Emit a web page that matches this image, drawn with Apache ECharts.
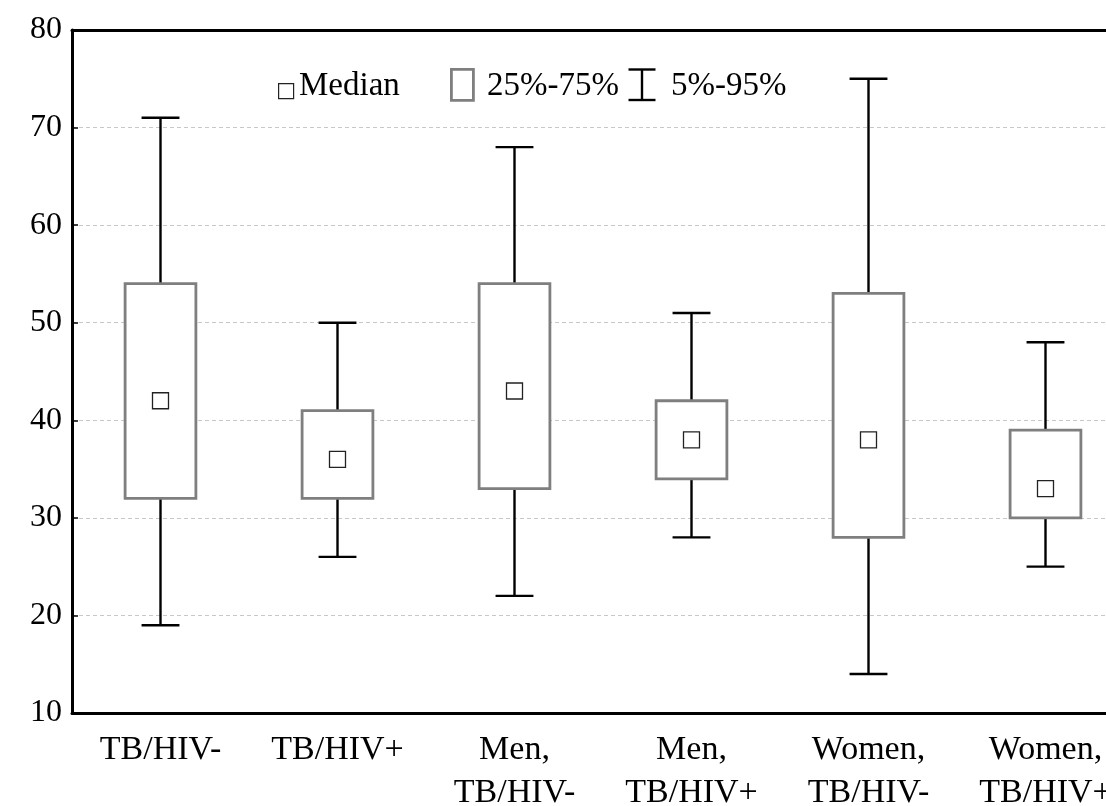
<!DOCTYPE html>
<html>
<head>
<meta charset="utf-8">
<script src="https://cdn.jsdelivr.net/npm/echarts@6/dist/echarts.min.js"></script>
<style>
  html, body { margin: 0; padding: 0; background: #fff; overflow: hidden; }
  /* the plot runs past the right edge of the window, as in the original */
  #main { width: 1134px; height: 806px; }
</style>
</head>
<body>
<div id="main"></div>
<script>
// groups and their summary statistics (age, years)
var categories = ['TB/HIV-', 'TB/HIV+', 'Men,\nTB/HIV-', 'Men,\nTB/HIV+', 'Women,\nTB/HIV-', 'Women,\nTB/HIV+'];
var p5 = [19, 26, 22, 28, 14, 25];
var q25 = [32, 32, 33, 34, 28, 30];
var medians = [42, 36, 43, 38, 38, 33];
var q75 = [54, 41, 54, 42, 53, 39];
var p95 = [71, 50, 68, 51, 75, 48];
var yTicks = [10, 20, 30, 40, 50, 60, 70, 80];

var FONT = '"Liberation Serif", "Times New Roman", serif';

function buildRows() {
    let rows = [];
    for (let i = 0; i < categories.length; i++) {
        rows.push([i, p5[i], q25[i], medians[i], q75[i], p95[i]]);
    }
    return rows;
}

function renderBox(params, api) {
    let idx = api.value(0);
    let band = api.size([1, 0])[0];
    let lo = api.coord([idx, api.value(1)]);
    let b1 = api.coord([idx, api.value(2)]);
    let md = api.coord([idx, api.value(3)]);
    let b3 = api.coord([idx, api.value(4)]);
    let hi = api.coord([idx, api.value(5)]);
    let cx = lo[0];
    let halfBox = band * 0.2;
    let halfCap = band * 0.107;
    let wStyle = { stroke: '#000', lineWidth: 2.4 };
    return {
        type: 'group',
        children: [
            { type: 'line', shape: { x1: cx, y1: lo[1], x2: cx, y2: b1[1] }, style: wStyle },
            { type: 'line', shape: { x1: cx, y1: b3[1], x2: cx, y2: hi[1] }, style: wStyle },
            { type: 'line', shape: { x1: cx - halfCap, y1: lo[1], x2: cx + halfCap, y2: lo[1] }, style: wStyle },
            { type: 'line', shape: { x1: cx - halfCap, y1: hi[1], x2: cx + halfCap, y2: hi[1] }, style: wStyle },
            {
                type: 'rect',
                shape: { x: cx - halfBox, y: b3[1], width: halfBox * 2, height: b1[1] - b3[1] },
                style: { fill: '#fff', stroke: '#7f7f7f', lineWidth: 2.8 }
            },
            {
                type: 'rect',
                shape: { x: md[0] - 8, y: md[1] - 8, width: 16, height: 16 },
                style: { fill: '#fff', stroke: '#222', lineWidth: 1.3 }
            }
        ]
    };
}

var chartDom = document.getElementById('main');
var myChart = echarts.init(chartDom);
var option;

option = {
    animation: false,
    backgroundColor: '#fff',
    grid: { left: 72, top: 30, right: 0, bottom: 93, outerBoundsMode: 'none' },
    xAxis: [
        {
            type: 'category',
            data: categories,
            position: 'bottom',
            axisLine: { lineStyle: { color: '#000', width: 3 } },
            axisTick: { inside: true, length: 7, alignWithLabel: true, lineStyle: { color: '#000', width: 1.5 } },
            axisLabel: {
                margin: 16,
                interval: 0,
                color: '#000',
                fontFamily: FONT,
                fontSize: 34,
                lineHeight: 43
            },
            splitLine: { show: false }
        },
        {
            type: 'category',
            data: categories,
            position: 'top',
            axisLine: { lineStyle: { color: '#000', width: 3 } },
            axisTick: { inside: true, length: 7, alignWithLabel: true, lineStyle: { color: '#000', width: 1.5 } },
            axisLabel: { show: false },
            splitLine: { show: false }
        }
    ],
    yAxis: {
        type: 'value',
        min: yTicks[0],
        max: yTicks[yTicks.length - 1],
        interval: 10,
        axisLine: { show: true, lineStyle: { color: '#000', width: 3 } },
        axisTick: { show: true, inside: true, length: 6, lineStyle: { color: '#000', width: 1.5 } },
        axisLabel: { margin: 10, color: '#000', fontFamily: FONT, fontSize: 32 },
        splitLine: { show: true, lineStyle: { color: '#c8c8c8', width: 1, type: [4, 3] } }
    },
    graphic: [
        { type: 'rect', left: 278, top: 83, shape: { width: 15, height: 15 }, style: { fill: '#fff', stroke: '#222', lineWidth: 1.2 } },
        { type: 'text', left: 299, top: 70, style: { text: 'Median', font: '33px ' + FONT, fill: '#000' } },
        { type: 'rect', left: 450, top: 68, shape: { width: 22, height: 31 }, style: { fill: '#fff', stroke: '#7f7f7f', lineWidth: 2.8 } },
        { type: 'text', left: 487, top: 70, style: { text: '25%-75%', font: '33px ' + FONT, fill: '#000' } },
        {
            type: 'group', left: 626, top: 67,
            children: [
                { type: 'line', shape: { x1: 0, y1: 1.5, x2: 27, y2: 1.5 }, style: { stroke: '#000', lineWidth: 2.4 } },
                { type: 'line', shape: { x1: 13.5, y1: 1.5, x2: 13.5, y2: 32 }, style: { stroke: '#000', lineWidth: 2.4 } },
                { type: 'line', shape: { x1: 0, y1: 32, x2: 27, y2: 32 }, style: { stroke: '#000', lineWidth: 2.4 } }
            ]
        },
        { type: 'text', left: 671, top: 70, style: { text: '5%-95%', font: '33px ' + FONT, fill: '#000' } }
    ],
    series: [
        {
            name: '5%-95%',
            type: 'custom',
            renderItem: renderBox,
            encode: { x: 0, y: [1, 2, 3, 4, 5] },
            data: buildRows()
        }
    ]
};

option && myChart.setOption(option);
</script>
</body>
</html>
